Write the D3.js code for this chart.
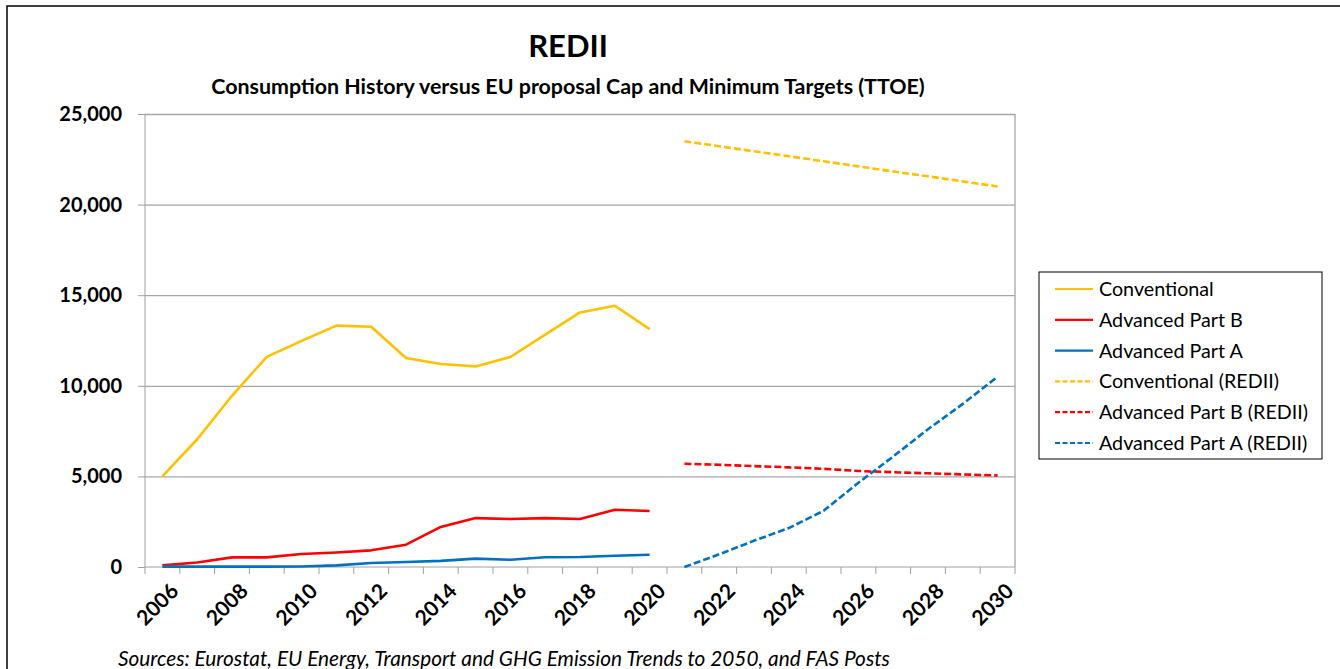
<!DOCTYPE html>
<html>
<head>
  <meta charset="utf-8">
  <script src="https://d3js.org/d3.v7.min.js"></script>
  <style>
  body {
    margin: 0;
    background: #fff;
  }
  svg text {
    font-family: Lato, "Open Sans", sans-serif;
    fill: #000;
  }
  .axis path, .axis line {
    stroke: #a0a0a0;
  }
  .axis text {
    font-weight: bold;
    font-size: 20px;
  }
  .x.axis text {
    font-size: 21px;
  }
  .grid line {
    stroke: #a6a6a6;
    stroke-width: 1.3;
  }
  .grid path {
    display: none;
  }
  .legend text {
    font-size: 19.7px;
  }
  </style>
</head>
<body>
<script>

  // years on the category axis
  var years = d3.range(2006, 2031).map(String);
  var histYears = years.slice(0, 15);    // 2006..2020
  var futureYears = years.slice(15);     // 2021..2030
  var yTicks = [0, 5000, 10000, 15000, 20000, 25000];

  // history (TTOE)
  var conventional = [5000, 7050, 9450, 11600, 12480, 13320, 13260, 11530, 11200, 11070, 11590, 12820, 14050, 14420, 13130];
  var advancedB    = [90, 250, 530, 530, 720, 800, 920, 1230, 2210, 2700, 2650, 2700, 2650, 3160, 3090];
  var advancedA    = [20, 20, 20, 20, 30, 90, 220, 280, 340, 460, 400, 540, 550, 620, 680];

  // REDII proposal
  var conventionalRed = [23500, 23220, 22940, 22670, 22390, 22110, 21830, 21560, 21280, 21000];
  var advancedBRed    = [5700, 5640, 5570, 5500, 5420, 5300, 5230, 5170, 5110, 5050];
  var advancedARed    = [0, 700, 1450, 2150, 3100, 4650, 6100, 7600, 9000, 10500];

  var series = [
    {name: "Conventional", yrs: histYears, vals: conventional, color: "#FFC000", dash: null},
    {name: "Advanced Part B", yrs: histYears, vals: advancedB, color: "#FF0000", dash: null},
    {name: "Advanced Part A", yrs: histYears, vals: advancedA, color: "#0070C0", dash: null},
    {name: "Conventional (REDII)", yrs: futureYears, vals: conventionalRed, color: "#FFC000", dash: "7,3"},
    {name: "Advanced Part B (REDII)", yrs: futureYears, vals: advancedBRed, color: "#FF0000", dash: "7,3"},
    {name: "Advanced Part A (REDII)", yrs: futureYears, vals: advancedARed, color: "#0070C0", dash: "7,3"}
  ];

  var W = 1340, H = 669;
  var plot = {left: 145, right: 1015, top: 114, bottom: 567};

  var svg = d3.select("body").append("svg")
    .attr("width", W)
    .attr("height", H);

  // outer frame
  svg.append("rect")
    .attr("x", 7).attr("y", 6)
    .attr("width", W + 20).attr("height", H + 20)
    .attr("fill", "none")
    .attr("stroke", "#000")
    .attr("stroke-width", 1.5);

  var x = d3.scaleBand().domain(years).range([plot.left, plot.right]).padding(0);
  var y = d3.scaleLinear().domain([0, 25000]).range([plot.bottom, plot.top]);
  var cx = d => x(d) + x.bandwidth() / 2;

  // grid
  svg.append("g")
    .attr("class", "grid")
    .attr("transform", "translate(" + plot.left + ",0)")
    .call(d3.axisLeft(y).tickValues(yTicks.slice(1)).tickSize(-(plot.right - plot.left)).tickFormat(""));

  // plot area right edge
  svg.append("line")
    .attr("x1", plot.right).attr("x2", plot.right)
    .attr("y1", plot.top).attr("y2", plot.bottom)
    .attr("stroke", "#a6a6a6").attr("stroke-width", 1.3);

  // y axis
  svg.append("g")
    .attr("class", "y axis")
    .attr("transform", "translate(" + plot.left + ",0)")
    .call(d3.axisLeft(y).tickValues(yTicks).tickFormat(d3.format(",")).tickSize(7).tickPadding(16))
    .select(".domain").attr("d", "M0," + plot.top + "V" + plot.bottom);

  // x axis: ticks at category boundaries, labels at every other centre
  var xg = svg.append("g").attr("class", "x axis");
  xg.append("line")
    .attr("x1", plot.left).attr("x2", plot.right)
    .attr("y1", plot.bottom).attr("y2", plot.bottom);
  xg.selectAll(".xt")
    .data(years.concat(["end"]))
    .enter().append("line")
    .attr("class", "xt")
    .attr("x1", d => d === "end" ? plot.right : x(d))
    .attr("x2", d => d === "end" ? plot.right : x(d))
    .attr("y1", plot.bottom).attr("y2", plot.bottom + 7);
  xg.selectAll(".xl")
    .data(years.filter((d, i) => i % 2 === 0))
    .enter().append("text")
    .attr("class", "xl")
    .attr("text-anchor", "end")
    .attr("transform", d => "translate(" + (cx(d) + 7) + "," + (plot.bottom + 15) + ") rotate(-45)")
    .attr("dy", "0.7em")
    .text(d => d);

  // lines
  var line = d3.line()
    .x(d => cx(d.year))
    .y(d => y(d.value));

  series.forEach(function(s) {
    var pts = s.yrs.map((yr, i) => ({year: yr, value: s.vals[i]}));
    svg.append("path")
      .datum(pts)
      .attr("fill", "none")
      .attr("stroke", s.color)
      .attr("stroke-width", 2.6)
      .attr("stroke-linejoin", "round")
      .attr("stroke-dasharray", s.dash)
      .attr("d", line);
  });

  // titles
  svg.append("text")
    .attr("x", 568).attr("y", 57)
    .attr("text-anchor", "middle")
    .style("font-size", "31px").style("font-weight", "bold")
    .text("REDII");
  svg.append("text")
    .attr("x", 568).attr("y", 94)
    .attr("text-anchor", "middle")
    .style("font-size", "21.4px").style("font-weight", "bold")
    .text("Consumption History versus EU proposal Cap and Minimum Targets (TTOE)");

  // legend
  var lg = svg.append("g").attr("class", "legend");
  lg.append("rect")
    .attr("x", 1039).attr("y", 272)
    .attr("width", 283).attr("height", 187)
    .attr("fill", "#fff").attr("stroke", "#000").attr("stroke-width", 1);
  var item = lg.selectAll(".item")
    .data(series)
    .enter().append("g")
    .attr("class", "item")
    .attr("transform", (d, i) => "translate(0," + (289 + i * 30.8) + ")");
  item.append("line")
    .attr("x1", 1055).attr("x2", 1093)
    .attr("stroke", d => d.color)
    .attr("stroke-width", 2.2)
    .attr("stroke-dasharray", d => d.dash ? "5,2.5" : null);
  item.append("text")
    .attr("x", 1099).attr("dy", "0.36em")
    .text(d => d.name);

  // source note
  svg.append("text")
    .attr("x", 118).attr("y", 666)
    .style("font-size", "20.8px").style("font-style", "italic")
    .text("Sources: Eurostat, EU Energy, Transport and GHG Emission Trends to 2050, and FAS Posts");

</script>
</body>
</html>
